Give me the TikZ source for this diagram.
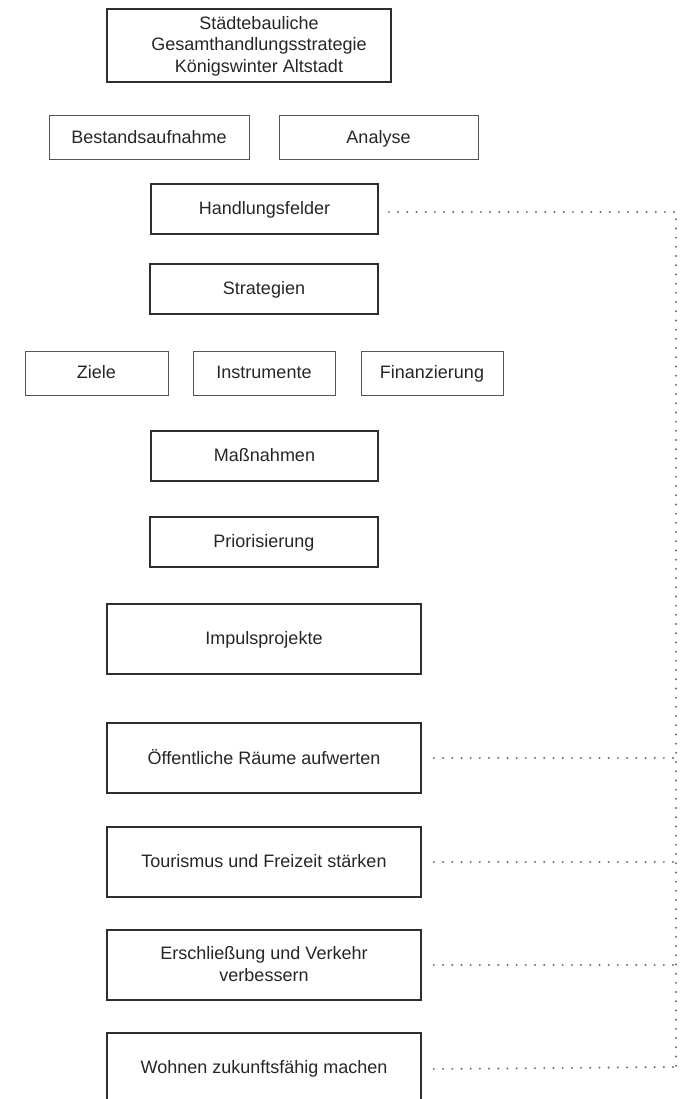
\documentclass[tikz,border=0pt]{standalone}
\usepackage{fontspec}
\setmainfont{Liberation Sans}
\usetikzlibrary{calc}
\definecolor{boxline}{HTML}{2E2E2E}
\definecolor{thinline}{HTML}{555555}
\definecolor{txt}{HTML}{262626}
\definecolor{dotcol}{HTML}{6A6A6A}
\newcommand\bxstrut{\rule[-3pt]{0pt}{17pt}}
\begin{document}
\begin{tikzpicture}[x=1pt,y=-1pt,
  every node/.style={font=\fontsize{18pt}{21.5pt}\selectfont, text=txt, inner sep=0pt},
  mainbox/.style={draw=boxline, line width=1.7pt, rectangle, align=center},
  thinbox/.style={draw=thinline, line width=1pt, rectangle, align=center},
  dotline/.style={draw=dotcol, line width=2.2pt, line cap=round, dash pattern=on 0pt off 9.2pt}
]
\useasboundingbox (0,0) rectangle (682,1099);
\clip (0,0) rectangle (682,1099);

\node[mainbox, minimum width=284pt, minimum height=73pt] (title) at (249,45.5)
  {\hspace*{20pt}\bxstrut Städtebauliche\\\hspace*{20pt}\bxstrut Gesamthandlungsstrategie\\\hspace*{20pt}\bxstrut Königswinter Altstadt};

\node[thinbox, minimum width=200pt, minimum height=44pt] (best) at (149,138) {\bxstrut Bestandsaufnahme};
\node[thinbox, minimum width=199pt, minimum height=44pt] (anal) at (378.5,138) {\bxstrut Analyse};

\node[mainbox, minimum width=227pt, minimum height=50pt] (hand) at (264.5,209) {\bxstrut Handlungsfelder};
\node[mainbox, minimum width=228pt, minimum height=50pt] (strat) at (264,289) {\bxstrut Strategien};

\node[thinbox, minimum width=143pt, minimum height=44pt] (ziele) at (96.5,373) {\bxstrut Ziele};
\node[thinbox, minimum width=142pt, minimum height=44pt] (instr) at (264,373) {\bxstrut Instrumente};
\node[thinbox, minimum width=142pt, minimum height=44pt] (finan) at (432,373) {\bxstrut Finanzierung};

\node[mainbox, minimum width=227pt, minimum height=50pt] (mass) at (264.5,456) {\bxstrut Maßnahmen};
\node[mainbox, minimum width=228pt, minimum height=50pt] (prio) at (264,542) {\bxstrut Priorisierung};

\node[mainbox, minimum width=314pt, minimum height=70pt] (impuls) at (264,639) {\bxstrut Impulsprojekte};

\node[mainbox, minimum width=314pt, minimum height=70pt] (oeff) at (264,758) {\bxstrut Öffentliche Räume aufwerten};
\node[mainbox, minimum width=314pt, minimum height=70pt] (tour) at (264,862) {\bxstrut Tourismus und Freizeit stärken};
\node[mainbox, minimum width=314pt, minimum height=70pt] (ersch) at (264,965) {\bxstrut Erschließung und Verkehr\\\bxstrut verbessern};
\node[mainbox, minimum width=314pt, minimum height=70pt] (wohn) at (264,1068) {\bxstrut Wohnen zukunftsfähig machen};

\coordinate (ctop) at (676,212);
\coordinate (cbot) at (676,1067);

\draw[dotline] ([xshift=10pt,yshift=-3pt]hand.east) -- (ctop) -- (cbot);
\draw[dotline] ([xshift=12pt]oeff.east) -- (oeff.east -| ctop);
\draw[dotline] ([xshift=12pt]tour.east) -- (tour.east -| ctop);
\draw[dotline] ([xshift=12pt]ersch.east) -- (ersch.east -| ctop);
\draw[dotline] ([xshift=12pt,yshift=-1pt]wohn.east) -- (cbot);
\end{tikzpicture}
\end{document}
